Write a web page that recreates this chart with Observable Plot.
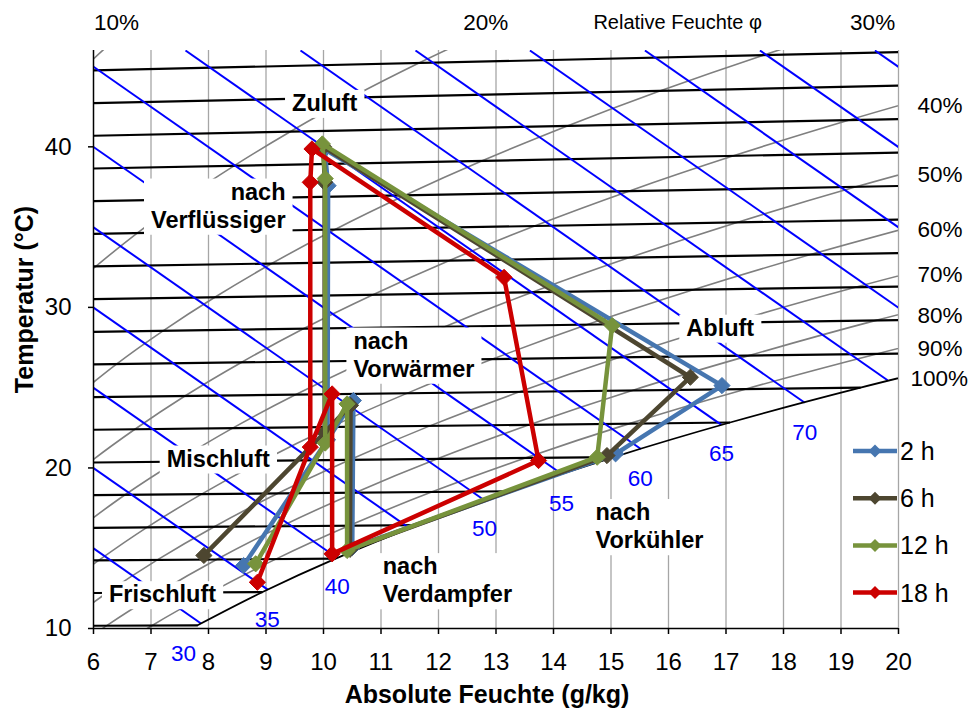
<!DOCTYPE html>
<html><head><meta charset="utf-8">
<script src="https://cdn.jsdelivr.net/npm/d3@7"></script>
<script src="https://cdn.jsdelivr.net/npm/@observablehq/plot@0.6"></script>
<style>
body{margin:0;background:#fff;}
#wrap{position:relative;width:971px;height:711px;font-family:"Liberation Sans",Arial,sans-serif;}
#legend{position:absolute;left:0;top:0;pointer-events:none;}
</style></head><body><div id="wrap"></div>
<script>
// ---- state points of the air cycle (x: g/kg, y: chart temperature axis) ----
const states = ["Frischluft","Mischluft","nach Verflüssiger","Zuluft","Abluft","nach Vorkühler","nach Verdampfer","nach Vorwärmer"];
const pathOrder = [0,1,2,3,4,5,6,7,1];
const x2h  = [8.61, 10.07, 10.08, 10.02, 16.93, 15.08, 10.50, 10.52];
const y2h  = [13.92, 21.75, 37.58, 39.85, 25.13, 20.88, 15.04, 24.20];
const x6h  = [7.92, 10.02, 10.02, 10.00, 16.38, 14.93, 10.46, 10.47];
const y6h  = [14.55, 22.20, 37.80, 40.00, 25.65, 20.77, 14.93, 23.90];
const x12h = [8.82, 10.03, 10.03, 9.98, 15.02, 14.76, 10.41, 10.41];
const y12h = [14.03, 21.55, 38.02, 40.18, 28.87, 20.67, 14.86, 23.99];
const x18h = [8.85, 9.77, 9.77, 9.80, 13.14, 13.74, 10.15, 10.15];
const y18h = [12.88, 21.30, 37.79, 39.87, 31.87, 20.46, 14.65, 24.61];
const seriesNames = ["2 h","6 h","12 h","18 h"];
const seriesColors = ["#4676b0","#4d4630","#77933c","#cc0000"];

// ---- axes ----
const xTicks = [6,7,8,9,10,11,12,13,14,15,16,17,18,19,20];
const yTicks = [10,20,30,40];

// ---- isotherms (black): t, y at x=6, end x, end y ----
const isoT  = [10,12,14,16,18,20,22,24,26,28,30,32,34,36,38,40,42,44];
const isoY0 = [10.17,12.21,14.24,16.27,18.31,20.34,22.38,24.41,26.45,28.48,30.51,32.55,34.58,36.62,38.65,40.69,42.72,44.76];
const isoX1 = [7.81,8.94,10.21,11.64,13.25,15.05,17.07,19.34,20,20,20,20,20,20,20,20,20,20];
const isoY1 = [10.20,12.27,14.35,16.44,18.55,20.68,22.83,25.00,27.12,29.21,31.30,33.38,35.47,37.56,39.64,41.73,43.81,45.90];

// ---- isenthalps (blue), kJ/kg ----
const hVal = [30,35,40,45,50,55,60,65,70,75,80,85,90,95];
const hX0 = [7.87,9.03,10.24,11.50,12.81,14.15,15.52,16.92,18.37,19.81,20,20,20,20];
const hY0 = [10.31,12.42,14.39,16.24,17.96,19.61,21.18,22.68,24.06,25.46,29.98,34.98,39.98,44.98];
const hX1 = [6,6,6,6,6,6,6,7.60,9.60,11.60,13.59,15.59,17.59,19.59];
const hY1 = [14.99,19.99,24.99,29.99,34.99,39.99,44.99,46,46,46,46,46,46,46];
const hLabel  = ["30","35","40","50","55","60","65","70"];
const hLabelX = [7.565,9.02,10.24,12.80,14.14,15.51,16.92,18.37];
const hLabelY = [8.42,10.54,12.57,16.21,17.76,19.32,20.88,22.22];

// ---- relative humidity curves (grey) ----
const rh10 = [[5.20,42.66],[5.78,44.74],[6.41,46.82]];
const rh20 = [[5.38,30.48],[6.04,32.55],[6.76,34.63],[7.56,36.72],[8.45,38.83],[9.42,40.94],[10.48,43.07],[11.66,45.22],[12.95,47.39]];
const rh30 = [[5.68,24.40],[6.40,26.47],[7.21,28.54],[8.11,30.63],[9.10,32.73],[10.20,34.85],[11.42,36.98],[12.76,39.13],[14.24,41.30],[15.86,43.49],[17.65,45.71],[19.63,47.96]];
const rh40 = [[5.23,18.28],[5.93,20.34],[6.72,22.41],[7.59,24.48],[8.57,26.57],[9.65,28.67],[10.86,30.79],[12.19,32.92],[13.67,35.07],[15.31,37.24],[17.13,39.44],[19.13,41.66],[21.33,43.92]];
const rh50 = [[5.76,16.27],[6.55,18.33],[7.44,20.40],[8.42,22.48],[9.52,24.57],[10.75,26.68],[12.11,28.80],[13.63,30.94],[15.32,33.10],[17.19,35.29],[19.26,37.51],[21.56,39.75]];
const rh60 = [[5.33,12.19],[6.09,14.24],[6.93,16.30],[7.88,18.37],[8.94,20.45],[10.13,22.55],[11.46,24.66],[12.94,26.78],[14.59,28.93],[16.43,31.10],[18.47,33.29],[20.74,35.52]];
const rh70 = [[5.45,10.16],[6.23,12.21],[7.11,14.27],[8.10,16.34],[9.21,18.42],[10.46,20.51],[11.85,22.62],[13.41,24.74],[15.15,26.89],[17.09,29.06],[19.25,31.25],[21.66,33.48]];
const rh80 = [[5.44,8.13],[6.23,10.18],[7.13,12.23],[8.14,14.30],[9.27,16.37],[10.55,18.46],[11.98,20.57],[13.58,22.69],[15.37,24.83],[17.38,26.98],[19.61,29.19],[22.10,31.41]];
const rh90 = [[6.13,8.14],[7.02,10.19],[8.04,12.25],[9.17,14.32],[10.45,16.41],[11.89,18.51],[13.51,20.62],[15.32,22.76],[17.35,24.92],[19.62,27.10],[22.15,29.32]];
const sat100 = [[7.81,10.20],[8.94,12.27],[10.21,14.35],[11.64,16.44],[13.25,18.55],[15.05,20.68],[17.07,22.83],[19.34,25.00],[21.87,27.21]];

// ---- relative humidity labels ----
const rhTopText = ["10%","20%","Relative Feuchte φ","30%"];
const rhTopX    = [6.40,12.82,16.16,19.55];
const rhTopY    = [47.73,47.73,47.73,47.73];
const rhTopSize = [22.5,22.5,20,22.5];
const rhRightText = ["40%","50%","60%","70%","80%","90%","100%"];
const rhRightX    = [20.33,20.33,20.33,20.33,20.33,20.33,20.21];
const rhRightY    = [42.57,38.27,34.84,32.04,29.49,27.43,25.57];

// ---- state annotations ----
const annText   = ["Zuluft","nach\nVerflüssiger","nach\nVorwärmer","Abluft","Mischluft","Frischluft","nach\nVerdampfer","nach\nVorkühler"];
const annX      = [10.02,9.34,10.52,16.90,8.17,7.20,11.03,14.73];
const annY      = [42.80,36.40,27.12,28.80,20.65,12.20,13.07,16.44];
const annAnchor = ["middle","end","start","middle","middle","middle","start","start"];

// ---- build ----
const F = "Liberation Sans, Arial, sans-serif";
const linkRows = (a,b,c,d) => a.map((_,i)=>({x1:a[i],y1:b[i],x2:c[i],y2:d[i]}));
const isotherms = linkRows(isoY0.map(()=>6), isoY0, isoX1, isoY1);
const isenthalps = linkRows(hX0, hY0, hX1, hY1);
const rhCurves = [rh10,rh20,rh30,rh40,rh50,rh60,rh70,rh80,rh90];
const hLabels = hLabel.map((t,i)=>({t, x:hLabelX[i], y:hLabelY[i]}));
const topLabels = rhTopText.map((t,i)=>({t, x:rhTopX[i], y:rhTopY[i], s:rhTopSize[i]}));
const rightLabels = rhRightText.map((t,i)=>({t, x:rhRightX[i], y:rhRightY[i]}));
const anns = annText.map((t,i)=>({t, x:annX[i], y:annY[i], a:annAnchor[i]}));
const seriesX = [x2h,x6h,x12h,x18h], seriesY = [y2h,y6h,y12h,y18h];

const seriesMarks = [];
seriesNames.forEach((name,k)=>{
  const pts = states.map((s,i)=>({s, x:seriesX[k][i], y:seriesY[k][i]}));
  const path = pathOrder.map(i=>pts[i]);
  seriesMarks.push(Plot.line(path,{x:"x",y:"y",stroke:seriesColors[k],strokeWidth:4.5,strokeLinejoin:"round"}));
  seriesMarks.push(Plot.dot(pts,{x:"x",y:"y",symbol:"diamond2",r:7.3,fill:seriesColors[k],stroke:seriesColors[k],strokeWidth:1}));
});

const chart = Plot.plot({
  width:971, height:711,
  marginLeft:93, marginRight:73, marginTop:50, marginBottom:83,
  x:{domain:[6,20]}, y:{domain:[10,46]},
  style:{fontFamily:F, background:"white", overflow:"visible"},
  marks:[
    Plot.gridX(xTicks.slice(1),{stroke:"#a6a6a6",strokeOpacity:1,strokeWidth:1.3}),
    ...rhCurves.map(c=>Plot.line(c,{x:d=>d[0],y:d=>d[1],stroke:"#7f7f7f",strokeWidth:1.6,curve:"catmull-rom",clip:true})),
    Plot.link(isotherms,{x1:"x1",y1:"y1",x2:"x2",y2:"y2",stroke:"black",strokeWidth:2.2,clip:true}),
    Plot.link(isenthalps,{x1:"x1",y1:"y1",x2:"x2",y2:"y2",stroke:"#0000ff",strokeWidth:2,clip:true}),
    Plot.line(sat100,{x:d=>d[0],y:d=>d[1],stroke:"black",strokeWidth:1.8,curve:"catmull-rom",clip:true}),
    Plot.text(hLabels,{x:"x",y:"y",text:"t",fill:"#0000ff",fontSize:22.5}),
    Plot.text(topLabels,{x:"x",y:"y",text:"t",fill:"black",fontSize:d=>d.s}),
    Plot.text(rightLabels,{x:"x",y:"y",text:"t",fill:"black",fontSize:22.5,textAnchor:"start"}),
    ...["middle","start","end"].map(a=>Plot.text(anns.filter(d=>d.a===a),{x:"x",y:"y",text:"t",textAnchor:a,fill:"black",fontSize:23.5,fontWeight:"bold",lineHeight:1.2})),
    ...seriesMarks,
    Plot.ruleY([10],{stroke:"black",strokeWidth:1.5}),
    Plot.ruleX([6],{stroke:"black",strokeWidth:1.5}),
    Plot.axisX(xTicks,{tickSize:6,tickPadding:18,fontSize:24,label:null,stroke:"black",strokeWidth:1.5}),
    Plot.axisY(yTicks,{tickSize:5,tickPadding:17,fontSize:24,label:null,stroke:"black",strokeWidth:1.5}),
    Plot.text(["Temperatur (°C)"],{frameAnchor:"left",textAnchor:"middle",lineAnchor:"middle",dx:-69,dy:-40,rotate:-90,fontSize:25,fontWeight:"bold",fill:"black"}),
    Plot.text(["Absolute Feuchte (g/kg)"],{frameAnchor:"bottom",textAnchor:"middle",lineAnchor:"middle",dx:-9,dy:66,fontSize:25,fontWeight:"bold",fill:"black"})
  ]
});
const wrap = document.getElementById("wrap");
wrap.append(chart);

// white boxes behind the state annotations
const annKeys = new Set(annText.map(t=>t.replace("\n","")));
d3.select(chart).selectAll("text").each(function(){
  if (!annKeys.has(this.textContent)) return;
  const b = this.getBBox();
  const r = document.createElementNS("http://www.w3.org/2000/svg","rect");
  r.setAttribute("x", b.x-7); r.setAttribute("y", b.y);
  r.setAttribute("width", b.width+14); r.setAttribute("height", b.height+2);
  r.setAttribute("fill","white"); r.setAttribute("stroke","none");
  const tr = this.getAttribute("transform"); if (tr) r.setAttribute("transform", tr);
  this.parentNode.insertBefore(r, this);
});

// legend
const lg = d3.select(wrap).append("svg").attr("id","legend").attr("width",971).attr("height",711);
seriesNames.forEach((name,k)=>{
  const y = 451 + k*47.2;
  const g = lg.append("g");
  g.append("line").attr("x1",853).attr("x2",897).attr("y1",y).attr("y2",y).attr("stroke",seriesColors[k]).attr("stroke-width",4.5);
  g.append("path").attr("d",`M875,${y-6.5}L881.5,${y}L875,${y+6.5}L868.5,${y}Z`).attr("fill",seriesColors[k]);
  g.append("text").attr("x",900).attr("y",y).attr("dy","0.36em").attr("font-size",25).attr("font-family",F).text(name);
});
</script>
</body></html>
